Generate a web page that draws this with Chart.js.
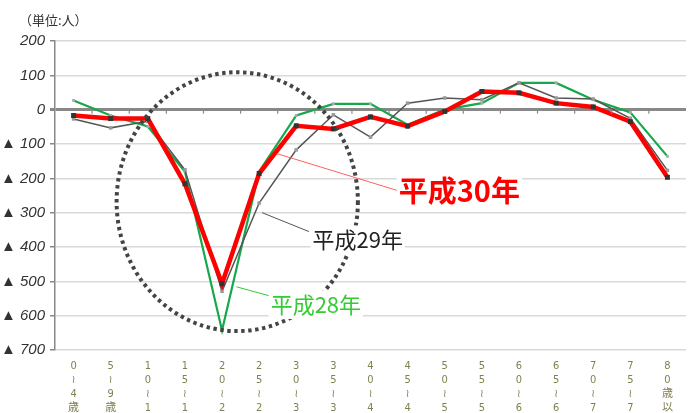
<!DOCTYPE html>
<html>
<head>
<meta charset="utf-8">
<script src="https://cdn.jsdelivr.net/npm/chart.js@4.4.1/dist/chart.umd.min.js"></script>
<style>
html,body{margin:0;padding:0;background:#fff;overflow:hidden;}
#wrap{width:690px;height:413px;position:relative;}
</style>
</head>
<body>
<div id="wrap"><canvas id="c" width="690" height="413"></canvas></div>
<script>
// ---- data ----
const categories = [
  ['0','≀','4','歳'], ['5','≀','9','歳'], ['1','0','≀','1'], ['1','5','≀','1'],
  ['2','0','≀','2'], ['2','5','≀','2'], ['3','0','≀','3'], ['3','5','≀','3'],
  ['4','0','≀','4'], ['4','5','≀','4'], ['5','0','≀','5'], ['5','5','≀','5'],
  ['6','0','≀','6'], ['6','5','≀','6'], ['7','0','≀','7'], ['7','5','≀','7'],
  ['8','0','歳','以']
];
const seriesNames = ['平成28年', '平成29年', '平成30年'];
const h28 = [27, -17, -49, -180, -643, -180, -17, 17, 17, -44, 0, 19, 78, 78, 29, -8, -136];
const h29 = [-27, -53, -34, -175, -529, -272, -117, -15, -80, 19, 34, 29, 78, 34, 31, -25, -177];
const h30 = [-17, -26, -26, -216, -507, -186, -47, -56, -21, -48, -5, 53, 49, 19, 8, -35, -197];
const yTicks = [200, 100, 0, -100, -200, -300, -400, -500, -600, -700];
const unitLabel = '（単位:人）';

const annoPlugin = {
  id: 'anno',
  afterDatasetsDraw(chart) {
    const ctx = chart.ctx, x = chart.scales.x, y = chart.scales.y;
    ctx.save();
    // small ticks below zero line at category boundaries
    ctx.strokeStyle = '#888'; ctx.lineWidth = 1.2;
    for (let i = 0; i < categories.length - 1; i++) {
      const px = (x.getPixelForValue(i) + x.getPixelForValue(i + 1)) / 2;
      ctx.beginPath(); ctx.moveTo(px, y.getPixelForValue(0)); ctx.lineTo(px, y.getPixelForValue(0) + 4); ctx.stroke();
    }
    // dotted ellipse
    const cx = x.getPixelForValue(4.41), cy = y.getPixelForValue(-268);
    const rx = x.getPixelForValue(3.25) - x.getPixelForValue(0);
    const ry = y.getPixelForValue(0) - y.getPixelForValue(377);
    ctx.strokeStyle = '#444'; ctx.lineWidth = 4; ctx.setLineDash([3.4, 3.6]);
    ctx.beginPath(); ctx.ellipse(cx, cy, rx, ry, 0, 0, Math.PI * 2); ctx.stroke();
    ctx.setLineDash([]);
    // leader lines
    const leader = (a, b, col) => {
      ctx.strokeStyle = col; ctx.lineWidth = 1;
      ctx.beginPath();
      ctx.moveTo(x.getPixelForValue(a[0]), y.getPixelForValue(a[1]));
      ctx.lineTo(x.getPixelForValue(b[0]), y.getPixelForValue(b[1]));
      ctx.stroke();
    };
    leader([5.48, -128], [8.74, -236], '#ff6060');
    leader([5.08, -300], [6.34, -355], '#555');
    leader([4.39, -516], [5.27, -542], '#33cc33');
    // labels with white box
    const label = (txt, xi, yv, font, col) => {
      ctx.font = font;
      const w = ctx.measureText(txt).width;
      const px = x.getPixelForValue(xi), py = y.getPixelForValue(yv);
      const m = parseInt(font.match(/(\d+)px/)[1]);
      ctx.fillStyle = '#fff';
      ctx.fillRect(px - 2, py - m * 0.65, w + 4, m * 1.3);
      ctx.fillStyle = col; ctx.textBaseline = 'middle'; ctx.textAlign = 'left';
      ctx.fillText(txt, px, py);
    };
    label(seriesNames[2], 8.76, -237, 'bold 29px "Noto Sans CJK JP"', '#ff0000');
    label(seriesNames[1], 6.44, -379, '22px "Noto Sans CJK JP"', '#222');
    label(seriesNames[0], 5.31, -568, '22px "Noto Sans CJK JP"', '#33cc33');
    // unit label
    ctx.font = '13px "Noto Sans CJK JP"'; ctx.fillStyle = '#333';
    ctx.textAlign = 'left'; ctx.textBaseline = 'middle';
    ctx.fillText(unitLabel, 19, 20);
    ctx.restore();
  }
};

new Chart(document.getElementById('c'), {
  type: 'line',
  data: {
    labels: categories,
    datasets: [
      { label: seriesNames[2], data: h30, borderColor: '#ff0000', borderWidth: 4.5,
        pointStyle: 'rect', pointRadius: 3.5, pointBackgroundColor: '#333', pointBorderColor: '#333', pointBorderWidth: 0, order: 1 },
      { label: seriesNames[1], data: h29, borderColor: '#555', borderWidth: 1.5,
        pointStyle: 'rect', pointRadius: 2.5, pointBackgroundColor: '#999', pointBorderColor: '#999', pointBorderWidth: 0, order: 2 },
      { label: seriesNames[0], data: h28, borderColor: '#16a84a', borderWidth: 2.2,
        pointStyle: 'rect', pointRadius: 2, pointBackgroundColor: '#aaa', pointBorderColor: '#aaa', pointBorderWidth: 0, order: 3 }
    ]
  },
  options: {
    responsive: false,
    animation: false,
    events: [],
    layout: { padding: { top: 41, right: 0, bottom: 0, left: 0 } },
    plugins: { legend: { display: false }, tooltip: { enabled: false }, title: { display: false } },
    scales: {
      x: {
        offset: true,
        grid: { display: false, drawTicks: false },
        border: { display: false },
        ticks: {
          color: '#808050', padding: 9, maxRotation: 0, autoSkip: false,
          font: { family: "'Liberation Sans Narrow', 'DejaVu Sans Condensed', 'Noto Sans CJK JP'", size: 11, lineHeight: 1.27 }
        },
        afterFit(s) { s.height = 63; }
      },
      y: {
        min: -700, max: 200,
        afterBuildTicks(s) { s.ticks = yTicks.map(v => ({ value: v })); },
        grid: {
          color: ctx => ctx.tick && ctx.tick.value === 0 ? '#888' : '#d9d9d9',
          lineWidth: ctx => ctx.tick && ctx.tick.value === 0 ? 3 : 1.5,
          drawTicks: true, tickLength: 5, tickColor: '#888'
        },
        border: { display: true, color: '#888', width: 1.5 },
        ticks: {
          color: '#333', padding: 5,
          font: { family: "'Liberation Sans', sans-serif", size: 15, style: 'italic', weight: 'normal' },
          callback: v => v < 0 ? '▲ ' + (-v) : String(v)
        },
        afterFit(s) { s.width = 55; }
      }
    }
  },
  plugins: [annoPlugin]
});
</script>
</body>
</html>
